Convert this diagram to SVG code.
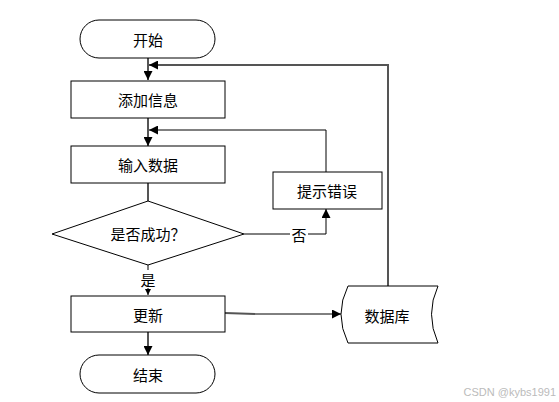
<svg xmlns="http://www.w3.org/2000/svg" width="559" height="402" viewBox="0 0 559 402">
<style>
.s{fill:#fff;stroke:#000;stroke-width:1}
.t{font-family:"Noto Sans CJK SC","Liberation Sans",sans-serif;font-size:15px;fill:#000;text-anchor:middle;dominant-baseline:central}
.c{fill:none;stroke:#000;stroke-width:1}
.g{fill:none;stroke:#555;stroke-width:2}
</style>
<defs>
<marker id="a" viewBox="0 0 10 10" refX="10" refY="5" markerWidth="9" markerHeight="9" markerUnits="userSpaceOnUse" orient="auto"><path d="M0,0L10,5L0,10Z" fill="#000"/></marker>
<marker id="b" viewBox="0 0 10 10" refX="10" refY="5" markerWidth="6" markerHeight="6" markerUnits="userSpaceOnUse" orient="auto"><path d="M0,0L10,5L0,10Z" fill="#000"/></marker>
</defs>
<rect width="559" height="402" fill="#fff"/>
<g id="connectors">
<path class="g" d="M148,58V80" marker-end="url(#a)"/>
<path class="g" d="M388,286V65H149" marker-end="url(#a)"/>
<path class="g" d="M148,118V146" marker-end="url(#a)"/>
<path class="c" d="M326,172V130H149" marker-end="url(#a)"/>
<path class="g" d="M148,183V201"/>
<path class="c" d="M244,234H326V209" marker-end="url(#a)"/>
<path class="c" d="M148,265V295" marker-end="url(#b)"/>
<path class="g" d="M225,313L255,314"/>
<path class="c" d="M255,314H341" marker-end="url(#a)"/>
<path class="g" d="M148,332V355" marker-end="url(#a)"/>
<rect x="290" y="225" width="18" height="18" fill="#fff"/>
<text class="t" x="299" y="234">否</text>
<rect x="139" y="270" width="18" height="18" fill="#fff"/>
<text class="t" x="148" y="279">是</text>
</g>
<g id="start"><rect class="s" x="80" y="20" width="135" height="38" rx="19"/><text class="t" x="148" y="39">开始</text></g>
<g id="add"><rect class="s" x="71" y="81" width="154" height="37"/><text class="t" x="148" y="99.5">添加信息</text></g>
<g id="input"><rect class="s" x="71" y="146" width="154" height="37"/><text class="t" x="148" y="164.5">输入数据</text></g>
<g id="decision"><path class="s" d="M148,201L244,234L148,265L52,234Z"/><text class="t" x="148" y="233">是否成功？</text></g>
<g id="error"><rect class="s" x="273" y="172" width="109" height="37"/><text class="t" x="327" y="190.5">提示错误</text></g>
<g id="update"><rect class="s" x="71" y="296" width="154" height="36"/><text class="t" x="148" y="314">更新</text></g>
<g id="db"><path class="s" d="M348,286H438Q425,314 438,343H348Q334,314 348,286Z"/><text class="t" x="387" y="315">数据库</text></g>
<g id="end"><rect class="s" x="80" y="355" width="135" height="38" rx="19"/><text class="t" x="148" y="374">结束</text></g>
<text x="556" y="396" font-family="Liberation Sans,sans-serif" font-size="11" fill="#bbb" text-anchor="end">CSDN @kybs1991</text>
</svg>
